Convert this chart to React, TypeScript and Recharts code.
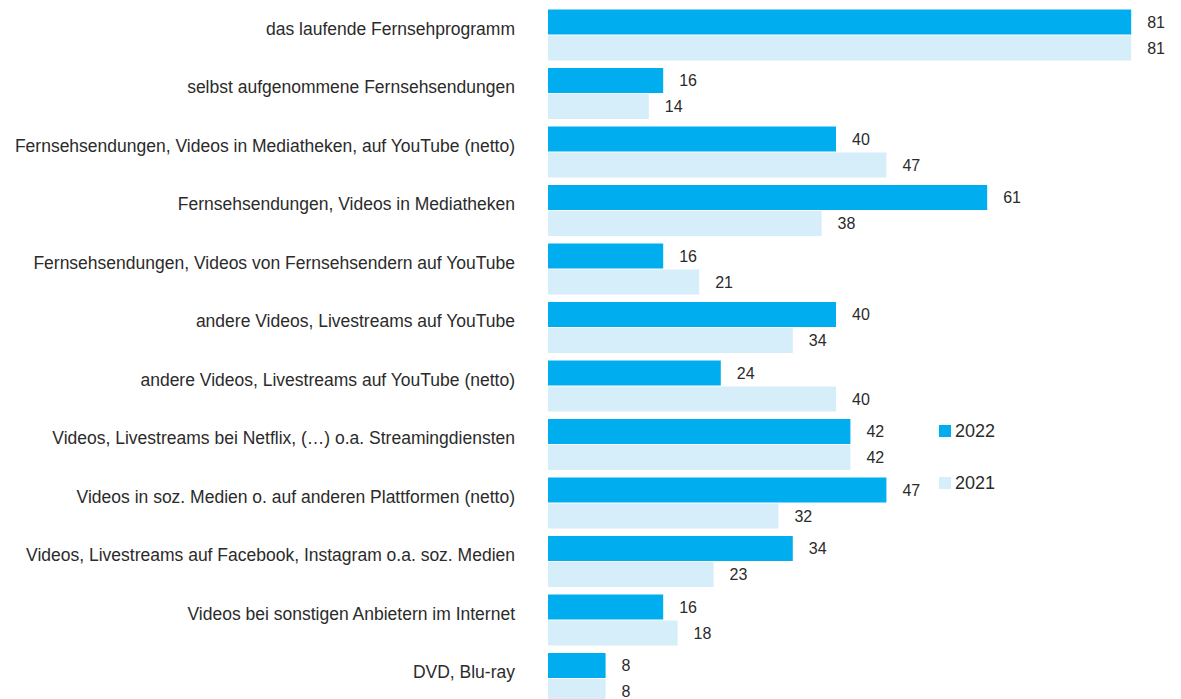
import { BarChart, Bar, XAxis, YAxis, Legend, LabelList } from 'recharts'

const categories = [
  'das laufende Fernsehprogramm',
  'selbst aufgenommene Fernsehsendungen',
  'Fernsehsendungen, Videos in Mediatheken, auf YouTube (netto)',
  'Fernsehsendungen, Videos in Mediatheken',
  'Fernsehsendungen, Videos von Fernsehsendern auf YouTube',
  'andere Videos, Livestreams auf YouTube',
  'andere Videos, Livestreams auf YouTube (netto)',
  'Videos, Livestreams bei Netflix, (…) o.a. Streamingdiensten',
  'Videos in soz. Medien o. auf anderen Plattformen (netto)',
  'Videos, Livestreams auf Facebook, Instagram o.a. soz. Medien',
  'Videos bei sonstigen Anbietern im Internet',
  'DVD, Blu-ray',
]

const values2022 = [81, 16, 40, 61, 16, 40, 24, 42, 47, 34, 16, 8]
const values2021 = [81, 14, 47, 38, 21, 34, 40, 42, 32, 23, 18, 8]

const series = [
  { key: 'y2022', label: '2022', color: '#00aeef' },
  { key: 'y2021', label: '2021', color: '#d6edfa' },
]

const data = categories.map((name, i) => ({
  name,
  y2022: values2022[i],
  y2021: values2021[i],
}))

const FONT = "'Liberation Sans', Arial, sans-serif"
const TEXT = '#2b2b2b'

function CategoryTick(props: any) {
  const { x, y, payload } = props
  return (
    <text x={x} y={y} textAnchor="end" fontSize={17.5} fontFamily={FONT} fill={TEXT}>
      {payload.value}
    </text>
  )
}

function LegendBox() {
  return (
    <div style={{ fontFamily: FONT, fontSize: 18, color: TEXT }}>
      {series.map((s, i) => (
        <div
          key={s.key}
          style={{ display: 'flex', alignItems: 'center', height: 14, marginTop: i ? 38 : 0 }}
        >
          <span style={{ width: 12, height: 12, background: s.color, marginRight: 4, display: 'inline-block' }} />
          <span>{s.label}</span>
        </div>
      ))}
    </div>
  )
}

export default function App() {
  return (
    <div
      style={{
        position: 'absolute',
        left: 0,
        top: 0,
        width: 1181,
        height: 699,
        overflow: 'hidden',
        background: '#fff',
      }}
    >
      <BarChart
        width={1181}
        height={710}
        data={data}
        layout="vertical"
        margin={{ top: 5.5, right: 21, bottom: 2.5, left: 0 }}
        barSize={25}
        barGap={1}
      >
        <XAxis type="number" domain={[0, 85]} hide />
        <YAxis
          type="category"
          dataKey="name"
          width={548}
          axisLine={false}
          tickLine={false}
          tickSize={0}
          tickMargin={33}
          interval={0}
          tick={<CategoryTick />}
        />
        <Legend
          layout="vertical"
          verticalAlign="middle"
          align="center"
          content={<LegendBox />}
          wrapperStyle={{ left: 939, top: 424, width: 80, height: 70 }}
        />
        {series.map((s) => (
          <Bar key={s.key} dataKey={s.key} name={s.label} fill={s.color} isAnimationActive={false}>
            <LabelList
              dataKey={s.key}
              position="right"
              offset={16}
              fontSize={16}
              fontFamily={FONT}
              fill={TEXT}
            />
          </Bar>
        ))}
      </BarChart>
    </div>
  )
}
